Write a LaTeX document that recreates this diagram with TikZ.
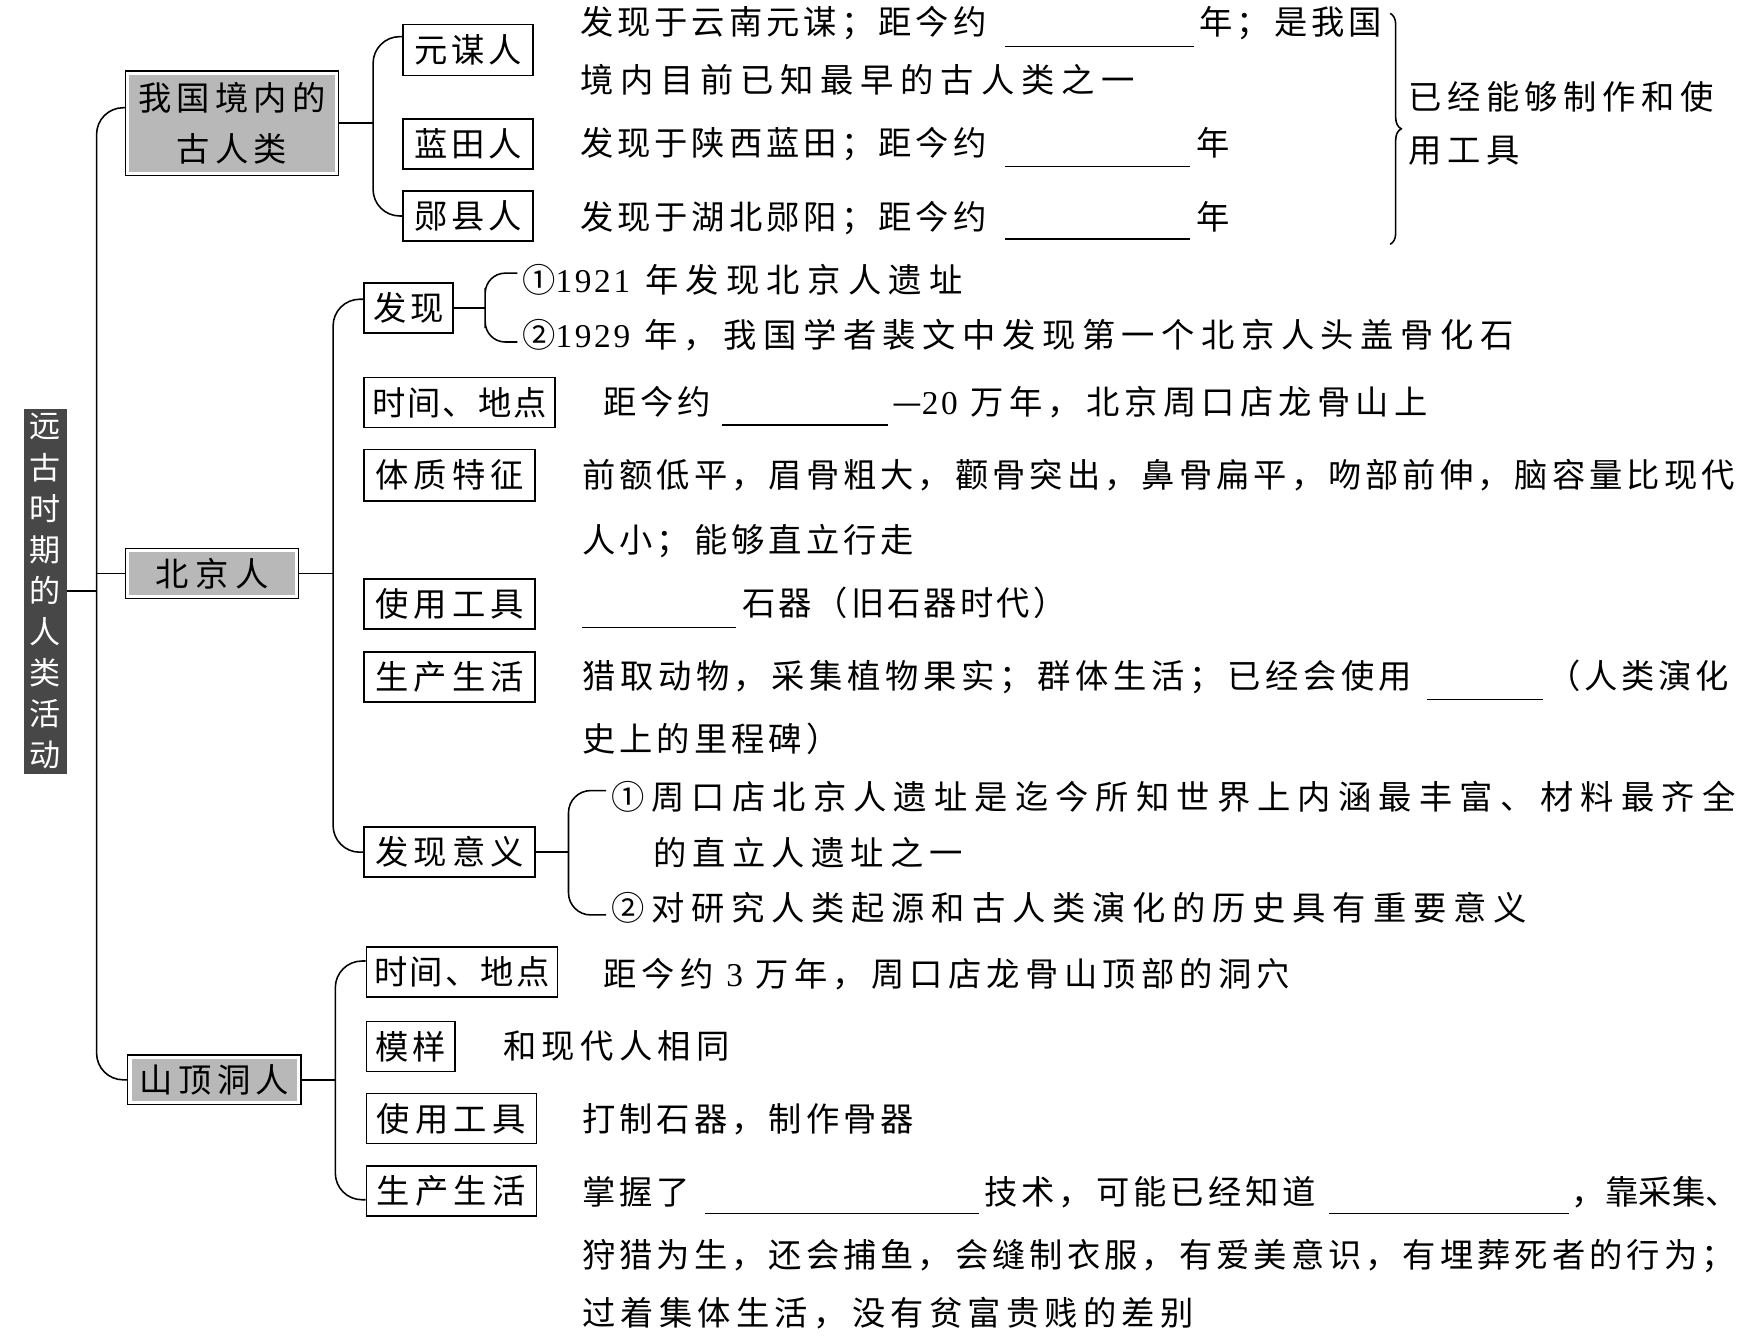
\documentclass[tikz,border=0pt]{standalone}
\usepackage{fontspec}
\newfontfamily\cjk{Noto Sans CJK SC}
\newfontfamily\lat{Liberation Serif}[LetterSpace=8]
\usetikzlibrary{decorations.pathreplacing}
\newcommand\myfs{\fontsize{15pt}{23pt}\selectfont}
\begin{document}
\begin{tikzpicture}[x=0.5pt,y=-0.5pt,
  txt/.style={anchor=west, inner sep=0pt, text height=13.2pt, text depth=1.8pt, font=\myfs\cjk\addfontfeatures{LetterSpace=12}},
  ls/.style={font=\myfs\cjk\addfontfeatures{LetterSpace=#1}},
  box/.style={draw, line width=0.7pt, inner sep=0pt, minimum height=22.5pt, text height=13.2pt, text depth=1.8pt, font=\myfs\cjk\addfontfeatures{LetterSpace=12}},
  graybox/.style={fill=black!28, inner sep=0pt, outer sep=1.75pt},
  conn/.style={line width=0.7pt},
  blank/.style={line width=0.7pt}
]
\useasboundingbox (0,0) rectangle (1568,1207);

% ---------- left title ----------
\node[fill=black!72, minimum width=19pt, minimum height=164.5pt, inner sep=0pt, text=white, align=center,
      font=\fontsize{14pt}{18.5pt}\selectfont\cjk] (dk) at (41,532.5) {远\\古\\时\\期\\的\\人\\类\\活\\动};

% ---------- level 1 gray boxes ----------
\node[graybox, minimum width=92.5pt, minimum height=43.5pt, align=center, ls=15.7] (g1) at (209,111) {我国境内的\\古人类};
\node[graybox, minimum width=74.5pt, minimum height=19pt, text height=13.2pt, text depth=1.8pt, ls=21] (g2) at (191,516.5) {北京人};
\node[graybox, minimum width=74.5pt, minimum height=19pt, text height=13.2pt, text depth=1.8pt, ls=16.7] (g3) at (193,972.5) {山顶洞人};
\foreach \n in {g1,g2,g3} \draw[line width=0.6pt] (\n.north west) rectangle (\n.south east);

% ---------- section 1 ----------
\node[box, minimum width=58.5pt, minimum height=23pt] (ym) at (421.5,45) {元谋人};
\node[box, minimum width=58.5pt] (lt) at (421.5,129.5) {蓝田人};
\node[box, minimum width=58.5pt] (yx) at (421.5,194.5) {郧县人};

\node[txt] (a1) at (522,20) {发现于云南元谋；距今约};
\draw[blank] (905,42) -- (1075,42);
\node[txt] (a1b) at (1080,20) {年；是我国};
\node[txt, ls=20.4] (a2) at (522,72) {境内目前已知最早的古人类之一};
\node[txt] (a3) at (522,129) {发现于陕西蓝田；距今约};
\draw[blank] (905,150) -- (1072,150);
\node[txt] (a3b) at (1077,129) {年};
\node[txt] (a4) at (522,195) {发现于湖北郧阳；距今约};
\draw[blank] (905,215) -- (1072,215);
\node[txt] (a4b) at (1077,195) {年};
\draw[conn, decorate, decoration={brace, amplitude=5pt}] (1252,12) -- (1252,220);
\node[txt, ls=16.7] (r1) at (1268,87) {已经能够制作和使};
\node[txt, ls=16.7] (r2) at (1268,135) {用工具};

% ---------- section 2 ----------
\node[box, minimum width=40pt] (fx) at (368,277.5) {发现};
\node[txt, ls=22] (f1) at (470,252) {①{\lat 1921} 年发现北京人遗址};
\node[txt, ls=19.5] (f2) at (470,302) {②{\lat 1929} 年，我国学者裴文中发现第一个北京人头盖骨化石};

\node[box, minimum width=86pt, ls=6.4] (sj) at (414,362.5) {时间、地点};
\node[txt] (b1t) at (543,362) {距今约};
\draw[blank] (650,383) -- (800,383);
\node[txt, ls=15.7] (b1u) at (803,362) {—{\lat 20} 万年，北京周口店龙骨山上};

\node[box, minimum width=77pt, minimum height=23pt, ls=15.7] (tz) at (405,428) {体质特征};
\node[txt, ls=12] (c1t) at (524,428) {前额低平，眉骨粗大，颧骨突出，鼻骨扁平，吻部前伸，脑容量比现代};
\node[txt] (c2t) at (524,486) {人小；能够直立行走};

\node[box, minimum width=77pt, ls=15.7] (sy) at (405,544) {使用工具};
\draw[blank] (524,565) -- (663,565);
\node[txt, ls=9.2] (d1t) at (668,543) {石器（旧石器时代）};

\node[box, minimum width=77pt, ls=15.7] (sc) at (405,609.5) {生产生活};
\node[txt, ls=13.9] (e1t) at (524,609) {猎取动物，采集植物果实；群体生活；已经会使用};
\draw[blank] (1285,630) -- (1390,630);
\node[txt, ls=11] (e1u) at (1393,609) {（人类演化};
\node[txt] (e2t) at (524,665) {史上的里程碑）};

\node[box, minimum width=77pt, ls=15.7] (fxyy) at (405,767.5) {发现意义};
\node[txt, ls=21.3] (s1) at (550,718) {①周口店北京人遗址是迄今所知世界上内涵最丰富、材料最齐全};
\node[txt, ls=18.5] (s2) at (588,768) {的直立人遗址之一};
\node[txt, ls=20.4] (s3) at (550,818) {②对研究人类起源和古人类演化的历史具有重要意义};

% ---------- section 3 ----------
\node[box, minimum width=86pt, ls=6.4] (sj2) at (416,875.5) {时间、地点};
\node[txt, ls=15.7] (h1) at (543,877) {距今约 {\lat 3} 万年，周口店龙骨山顶部的洞穴};
\node[box, minimum width=40pt] (my) at (370,942.5) {模样};
\node[txt, ls=15.7] (h2) at (453,942) {和现代人相同};
\node[box, minimum width=76.5pt, ls=15.7] (sy2) at (406.5,1007.5) {使用工具};
\node[txt] (h3) at (524,1008) {打制石器，制作骨器};
\node[box, minimum width=76.5pt, ls=15.7] (sc2) at (406.5,1072.5) {生产生活};
\node[txt] (h4) at (524,1073) {掌握了};
\draw[blank] (635,1093) -- (882,1093);
\node[txt] (h4b) at (886,1073) {技术，可能已经知道};
\draw[blank] (1197,1093) -- (1413,1093);
\node[txt, ls=0.8] (h4c) at (1415,1073) {，靠采集、};
\node[txt, ls=12] (h5) at (524,1130) {狩猎为生，还会捕鱼，会缝制衣服，有爱美意识，有埋葬死者的行为；};
\node[txt, ls=15.7] (h6) at (524,1182) {过着集体生活，没有贫富贵贱的差别};

% ---------- connectors ----------
\coordinate (mx) at (87,519);
\draw[conn, rounded corners=12pt] ([yshift=7pt]g1.west) -| (mx) |- (g3.west);
\draw[conn] (dk.east) -- (dk.east -| mx);
\draw[conn] (g2.west) -- (g2.west -| mx);

\coordinate (k1) at (336,111);
\draw[conn] (g1.east) -- (k1);
\draw[conn, rounded corners=12pt] ([yshift=6pt]ym.west) -| (k1) |- (yx.west);

\coordinate (k2) at (300,516.5);
\draw[conn] (g2.east) -- (k2);
\draw[conn, rounded corners=12pt] ([yshift=4pt]fx.west) -| (k2) |- (fxyy.west);

\coordinate (q1) at (437,277.5);
\draw[conn] (fx.east) -- (q1);
\draw[conn, rounded corners=9pt] ([xshift=-2pt,yshift=3pt]f1.west) -| (q1) |- ([xshift=-2pt,yshift=-3pt]f2.west);

\coordinate (q2) at (512,767.5);
\draw[conn] (fxyy.east) -- (q2);
\draw[conn, rounded corners=10pt] ([xshift=-2pt,yshift=3pt]s1.west) -| (q2) |- ([xshift=-2pt,yshift=-3pt]s3.west);

\coordinate (k3) at (302,972.5);
\draw[conn] (g3.east) -- (k3);
\draw[conn, rounded corners=12pt] ([yshift=5pt]sj2.west) -| (k3) |- ([yshift=-4pt]sc2.west);
\end{tikzpicture}
\end{document}
